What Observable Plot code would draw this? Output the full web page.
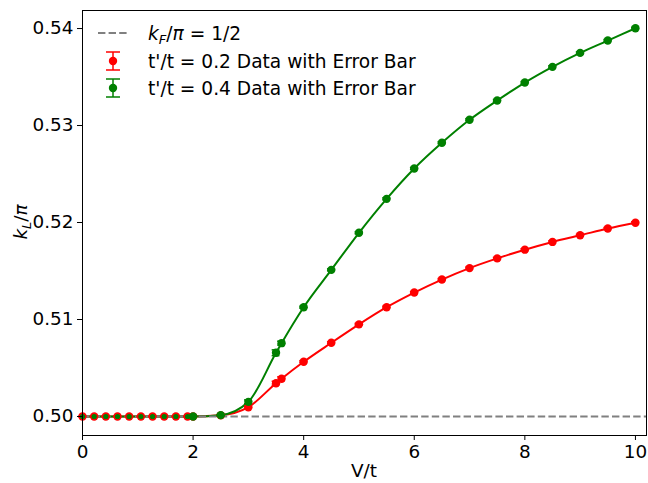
<!DOCTYPE html>
<html>
<head>
<meta charset="utf-8">
<script src="https://cdn.jsdelivr.net/npm/d3@7"></script>
<script src="https://cdn.jsdelivr.net/npm/@observablehq/plot@0.6"></script>
<style>
  html, body { margin: 0; padding: 0; background: #fff; }
  #chart { width: 648px; height: 483px; }
</style>
</head>
<body>
<div id="chart"></div>
<script>
const xVals = [0, 0.211, 0.422, 0.633, 0.844, 1.056, 1.267, 1.478, 1.689, 1.9, 2.0, 2.5, 3.0, 3.5, 3.6, 4.0, 4.5, 5.0, 5.5, 6.0, 6.5, 7.0, 7.5, 8.0, 8.5, 9.0, 9.5, 10.0];
const red02 = [0.5, 0.5, 0.5, 0.5, 0.5, 0.5, 0.5, 0.5, 0.5, 0.5, 0.5, 0.50012, 0.50096, 0.50343, 0.50389, 0.50564, 0.50760, 0.50950, 0.51127, 0.51278, 0.51412, 0.51530, 0.51630, 0.51720, 0.51800, 0.51868, 0.51938, 0.51998];
const green04 = [0.5, 0.5, 0.5, 0.5, 0.5, 0.5, 0.5, 0.5, 0.5, 0.5, 0.5, 0.50014, 0.50151, 0.50657, 0.50756, 0.51127, 0.51512, 0.51894, 0.52244, 0.52557, 0.52822, 0.53059, 0.53258, 0.53443, 0.53605, 0.53749, 0.53876, 0.54003];
const red02Err = [0.00003, 0.00003, 0.00003, 0.00003, 0.00003, 0.00003, 0.00003, 0.00003, 0.00003, 0.00003, 0.00003, 0.00005, 0.0001, 0.0002, 0.0002, 0.0001, 0.0001, 0.0001, 0.0001, 0.0001, 0.0001, 0.0001, 0.0001, 0.0001, 0.0001, 0.0001, 0.0001, 0.0001];
const green04Err = [0.00003, 0.00003, 0.00003, 0.00003, 0.00003, 0.00003, 0.00003, 0.00003, 0.00003, 0.00003, 0.00003, 0.00005, 0.0002, 0.0003, 0.0002, 0.0001, 0.0001, 0.0001, 0.0001, 0.0001, 0.0001, 0.0001, 0.0001, 0.0001, 0.0001, 0.0001, 0.0001, 0.0001];
const refLine = 0.5;
const xTicks = [0, 2, 4, 6, 8, 10];
const yTicks = [0.50, 0.51, 0.52, 0.53, 0.54];

const redData = xVals.map((x, i) => ({x, y: red02[i], e: red02Err[i]}));
const greenData = xVals.map((x, i) => ({x, y: green04[i], e: green04Err[i]}));
const capHalf = 0.07;

const errMarks = (data, color) => [
  Plot.ruleX(data, {x: "x", y1: d => d.y - d.e, y2: d => d.y + d.e, stroke: color, strokeWidth: 1.5}),
  Plot.ruleY(data, {y: d => d.y - d.e, x1: d => d.x - capHalf, x2: d => d.x + capHalf, stroke: color, strokeWidth: 1.5}),
  Plot.ruleY(data, {y: d => d.y + d.e, x1: d => d.x - capHalf, x2: d => d.x + capHalf, stroke: color, strokeWidth: 1.5})
];

const chart = Plot.plot({
  width: 648,
  height: 483,
  marginLeft: 82,
  marginRight: 2,
  marginTop: 10,
  marginBottom: 48,
  style: {fontFamily: "DejaVu Sans", fontSize: "18.4px", color: "black", background: "white"},
  x: {domain: [0, 10.2]},
  y: {domain: [0.49804, 0.54186]},
  marks: [
    Plot.line(redData, {x: "x", y: "y", stroke: "red", strokeWidth: 2, curve: "monotone-x"}),
    Plot.line(greenData, {x: "x", y: "y", stroke: "green", strokeWidth: 2, curve: "monotone-x"}),
    Plot.ruleY([refLine], {stroke: "gray", strokeWidth: 2, strokeDasharray: "7.4,3.2"}),
    ...errMarks(redData, "red"),
    Plot.dot(redData, {x: "x", y: "y", r: 4.2, fill: "red", stroke: "none"}),
    ...errMarks(greenData.filter(d => d.x >= 2), "green"),
    Plot.dot(greenData.filter(d => d.x < 2), {x: "x", y: "y", r: 2.6, fill: "green", stroke: "none"}),
    Plot.dot(greenData.filter(d => d.x >= 2), {x: "x", y: "y", r: 4.2, fill: "green", stroke: "none"}),
    Plot.frame({stroke: "black", strokeWidth: 1}),
    Plot.axisX({ticks: xTicks, tickSize: 5, tickPadding: 4, label: null, tickFormat: d => String(d)}),
    Plot.axisY({ticks: yTicks, tickSize: 5, tickPadding: 4, label: null, tickFormat: ".2f"})
  ]
});

document.getElementById("chart").appendChild(chart);

const svg = d3.select(chart);
const font = "DejaVu Sans";

// x label
svg.append("text")
  .attr("x", 364).attr("y", 477)
  .attr("text-anchor", "middle")
  .attr("font-family", font).attr("font-size", 18.4).attr("fill", "black")
  .text("V/t");

// y label k_L/π
const yl = svg.append("text")
  .attr("transform", "translate(27,222) rotate(-90)")
  .attr("text-anchor", "middle")
  .attr("font-family", font).attr("font-size", 18.4).attr("fill", "black");
yl.append("tspan").attr("font-style", "italic").text("k");
yl.append("tspan").attr("font-style", "italic").attr("font-size", 13).attr("dy", 4).text("L");
yl.append("tspan").attr("dy", -4).text("/");
yl.append("tspan").attr("font-style", "italic").text("π");

// legend
const lg = svg.append("g").attr("font-family", font).attr("font-size", 18.6).attr("fill", "black").attr("text-anchor", "start");
lg.append("line").attr("x1", 98).attr("x2", 128).attr("y1", 33).attr("y2", 33)
  .attr("stroke", "gray").attr("stroke-width", 2).attr("stroke-dasharray", "7.4,3.2");
const t1 = lg.append("text").attr("x", 148).attr("y", 39.5).attr("text-anchor", "start");
t1.append("tspan").attr("font-style", "italic").text("k");
t1.append("tspan").attr("font-style", "italic").attr("font-size", 13).attr("dy", 4).text("F");
t1.append("tspan").attr("dy", -4).text("/");
t1.append("tspan").attr("font-style", "italic").text("π");
t1.append("tspan").text(" = 1/2");

const legendItems = [
  {color: "red", cy: 61, label: "t'/t = 0.2 Data with Error Bar"},
  {color: "green", cy: 88, label: "t'/t = 0.4 Data with Error Bar"}
];
legendItems.forEach(it => {
  lg.append("line").attr("x1", 113).attr("x2", 113).attr("y1", it.cy - 9).attr("y2", it.cy + 9)
    .attr("stroke", it.color).attr("stroke-width", 1.5);
  lg.append("line").attr("x1", 106).attr("x2", 120).attr("y1", it.cy - 9).attr("y2", it.cy - 9)
    .attr("stroke", it.color).attr("stroke-width", 1.5);
  lg.append("line").attr("x1", 106).attr("x2", 120).attr("y1", it.cy + 9).attr("y2", it.cy + 9)
    .attr("stroke", it.color).attr("stroke-width", 1.5);
  lg.append("circle").attr("cx", 113).attr("cy", it.cy).attr("r", 4.2).attr("fill", it.color);
  lg.append("text").attr("x", 148).attr("y", it.cy + 6.5).attr("text-anchor", "start").text(it.label);
});
</script>
</body>
</html>
